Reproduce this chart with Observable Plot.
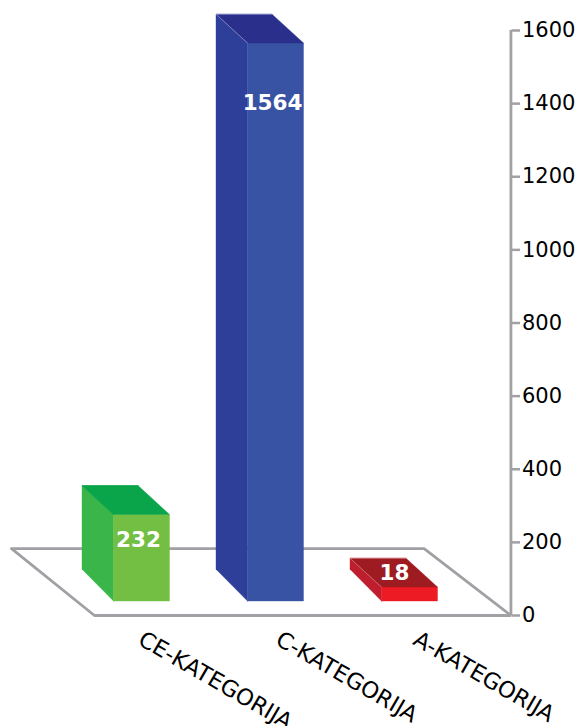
<!DOCTYPE html>
<html>
<head>
<meta charset="utf-8">
<script src="https://cdn.jsdelivr.net/npm/d3@7"></script>
<script src="https://cdn.jsdelivr.net/npm/@observablehq/plot@0.6"></script>
<style>
  html, body { margin: 0; padding: 0; background: #fff; overflow: hidden; }
  svg { display: block; }
</style>
</head>
<body>
<div id="chart"></div>
<script>
// Data
const categories = ["CE-KATEGORIJA", "C-KATEGORIJA", "A-KATEGORIJA"];
const values = [232, 1564, 18];
const yTicks = [0, 200, 400, 600, 800, 1000, 1200, 1400, 1600];
const frontColors = ["#72bf44", "#3953a4", "#ed1c24"];
const sideColors = ["#39b54a", "#2e3f9a", "#be1e2d"];
const topColors = ["#0aa44a", "#2b2f8c", "#9e1b22"];
const edgeColors = ["#0aa44a", "#9aa0d0", "#e08088"];

// Pseudo-3D projection, in scale units (x: category steps, y: axis units)
const halfW = 0.209;      // half the width of a front face
const depthX = 0.235;     // shift of the rear edge to the left
const depthTop = 79;      // rise of the rear edge at the top of a bar
const depthBase = 87;     // rise of the rear edge at the base of a bar
const base = 39.7;        // front base of the bars sits above the floor's front edge
const barHeight = v => Math.max(38, 0.968 * v + 12); // projected height with a minimum
const floorBack = 183;    // rise of the floor's rear edge
const axisX = 2.757;

const faces = [];
const edges = [];
categories.forEach((c, i) => {
  const top = base + barHeight(values[i]);
  const L = i - halfW, R = i + halfW;
  const add = (face, color, pts) => pts.forEach(([x, y]) => faces.push({id: c + face, color, x, y}));
  add("side", sideColors[i], [[L, base], [L, top], [L - depthX, top + depthTop], [L - depthX, base + depthBase], [L, base]]);
  add("front", frontColors[i], [[L, base], [R, base], [R, top], [L, top], [L, base]]);
  add("top", topColors[i], [[L, top], [R, top], [R - depthX, top + depthTop], [L - depthX, top + depthTop], [L, top]]);
  [[L, top], [L - depthX, top + depthTop], [R - depthX, top + depthTop]]
    .forEach(([x, y]) => edges.push({id: c, color: edgeColors[i], x, y}));
});

const floor = [
  {x: -0.97, y: floorBack},
  {x: 2.109, y: floorBack},
  {x: axisX, y: 0},
  {x: -0.351, y: 0},
  {x: -0.97, y: floorBack}
];

// Value labels: offsets from each bar's front face
const labelDx = [-0.022, -0.022, -0.112];
const labelDy = [-70, -163, 38];
const valueLabels = categories.map((c, i) => ({
  text: String(values[i]),
  x: i + labelDx[i],
  y: base + barHeight(values[i]) + labelDy[i]
}));

const catLabels = categories.map((c, i) => ({text: c, x: i * 1.026 - 0.008, y: -60}));

const gray = "#a0a0a5";
const font = "'DejaVu Sans', Verdana, sans-serif";

const plot = Plot.plot({
  width: 579,
  height: 726,
  marginTop: 30,
  marginBottom: 111,
  marginLeft: 0,
  marginRight: 68.5,
  style: {background: "#fff", fontFamily: font, overflow: "hidden"},
  x: {domain: [-141 / 134, 438 / 134], range: [0, 579], axis: null},
  y: {domain: [0, 1600], range: [615, 30]},
  marks: [
    Plot.line(floor, {x: "x", y: "y", stroke: gray, strokeWidth: 2.8, strokeLinejoin: "miter"}),
    Plot.ruleX([axisX], {y1: 0, y2: 1600, stroke: gray, strokeWidth: 2.8}),
    Plot.axisY({
      anchor: "right",
      ticks: yTicks,
      tickSize: 8.5,
      tickPadding: 2.5,
      tickFormat: "d",
      label: null,
      fontSize: 21,
      stroke: gray,
      strokeWidth: 2.5,
      fill: "#000",
      fontFamily: font
    }),
    Plot.line(faces, {x: "x", y: "y", z: "id", fill: "color", stroke: "color", strokeWidth: 0.4, curve: "linear"}),
    Plot.line(edges, {x: "x", y: "y", z: "id", stroke: "color", strokeWidth: 0.7, strokeOpacity: 0.9}),
    Plot.text(valueLabels, {
      x: "x", y: "y", text: "text", fill: "#fff", fontSize: 21.5, fontWeight: "bold",
      fontFamily: font, textAnchor: "middle"
    }),
    Plot.text(catLabels, {
      x: "x", y: "y", text: "text", fill: "#000", fontSize: 22.5, rotate: 30,
      fontFamily: font, textAnchor: "start", lineAnchor: "middle"
    })
  ]
});
document.getElementById("chart").appendChild(plot);
</script>
</body>
</html>
